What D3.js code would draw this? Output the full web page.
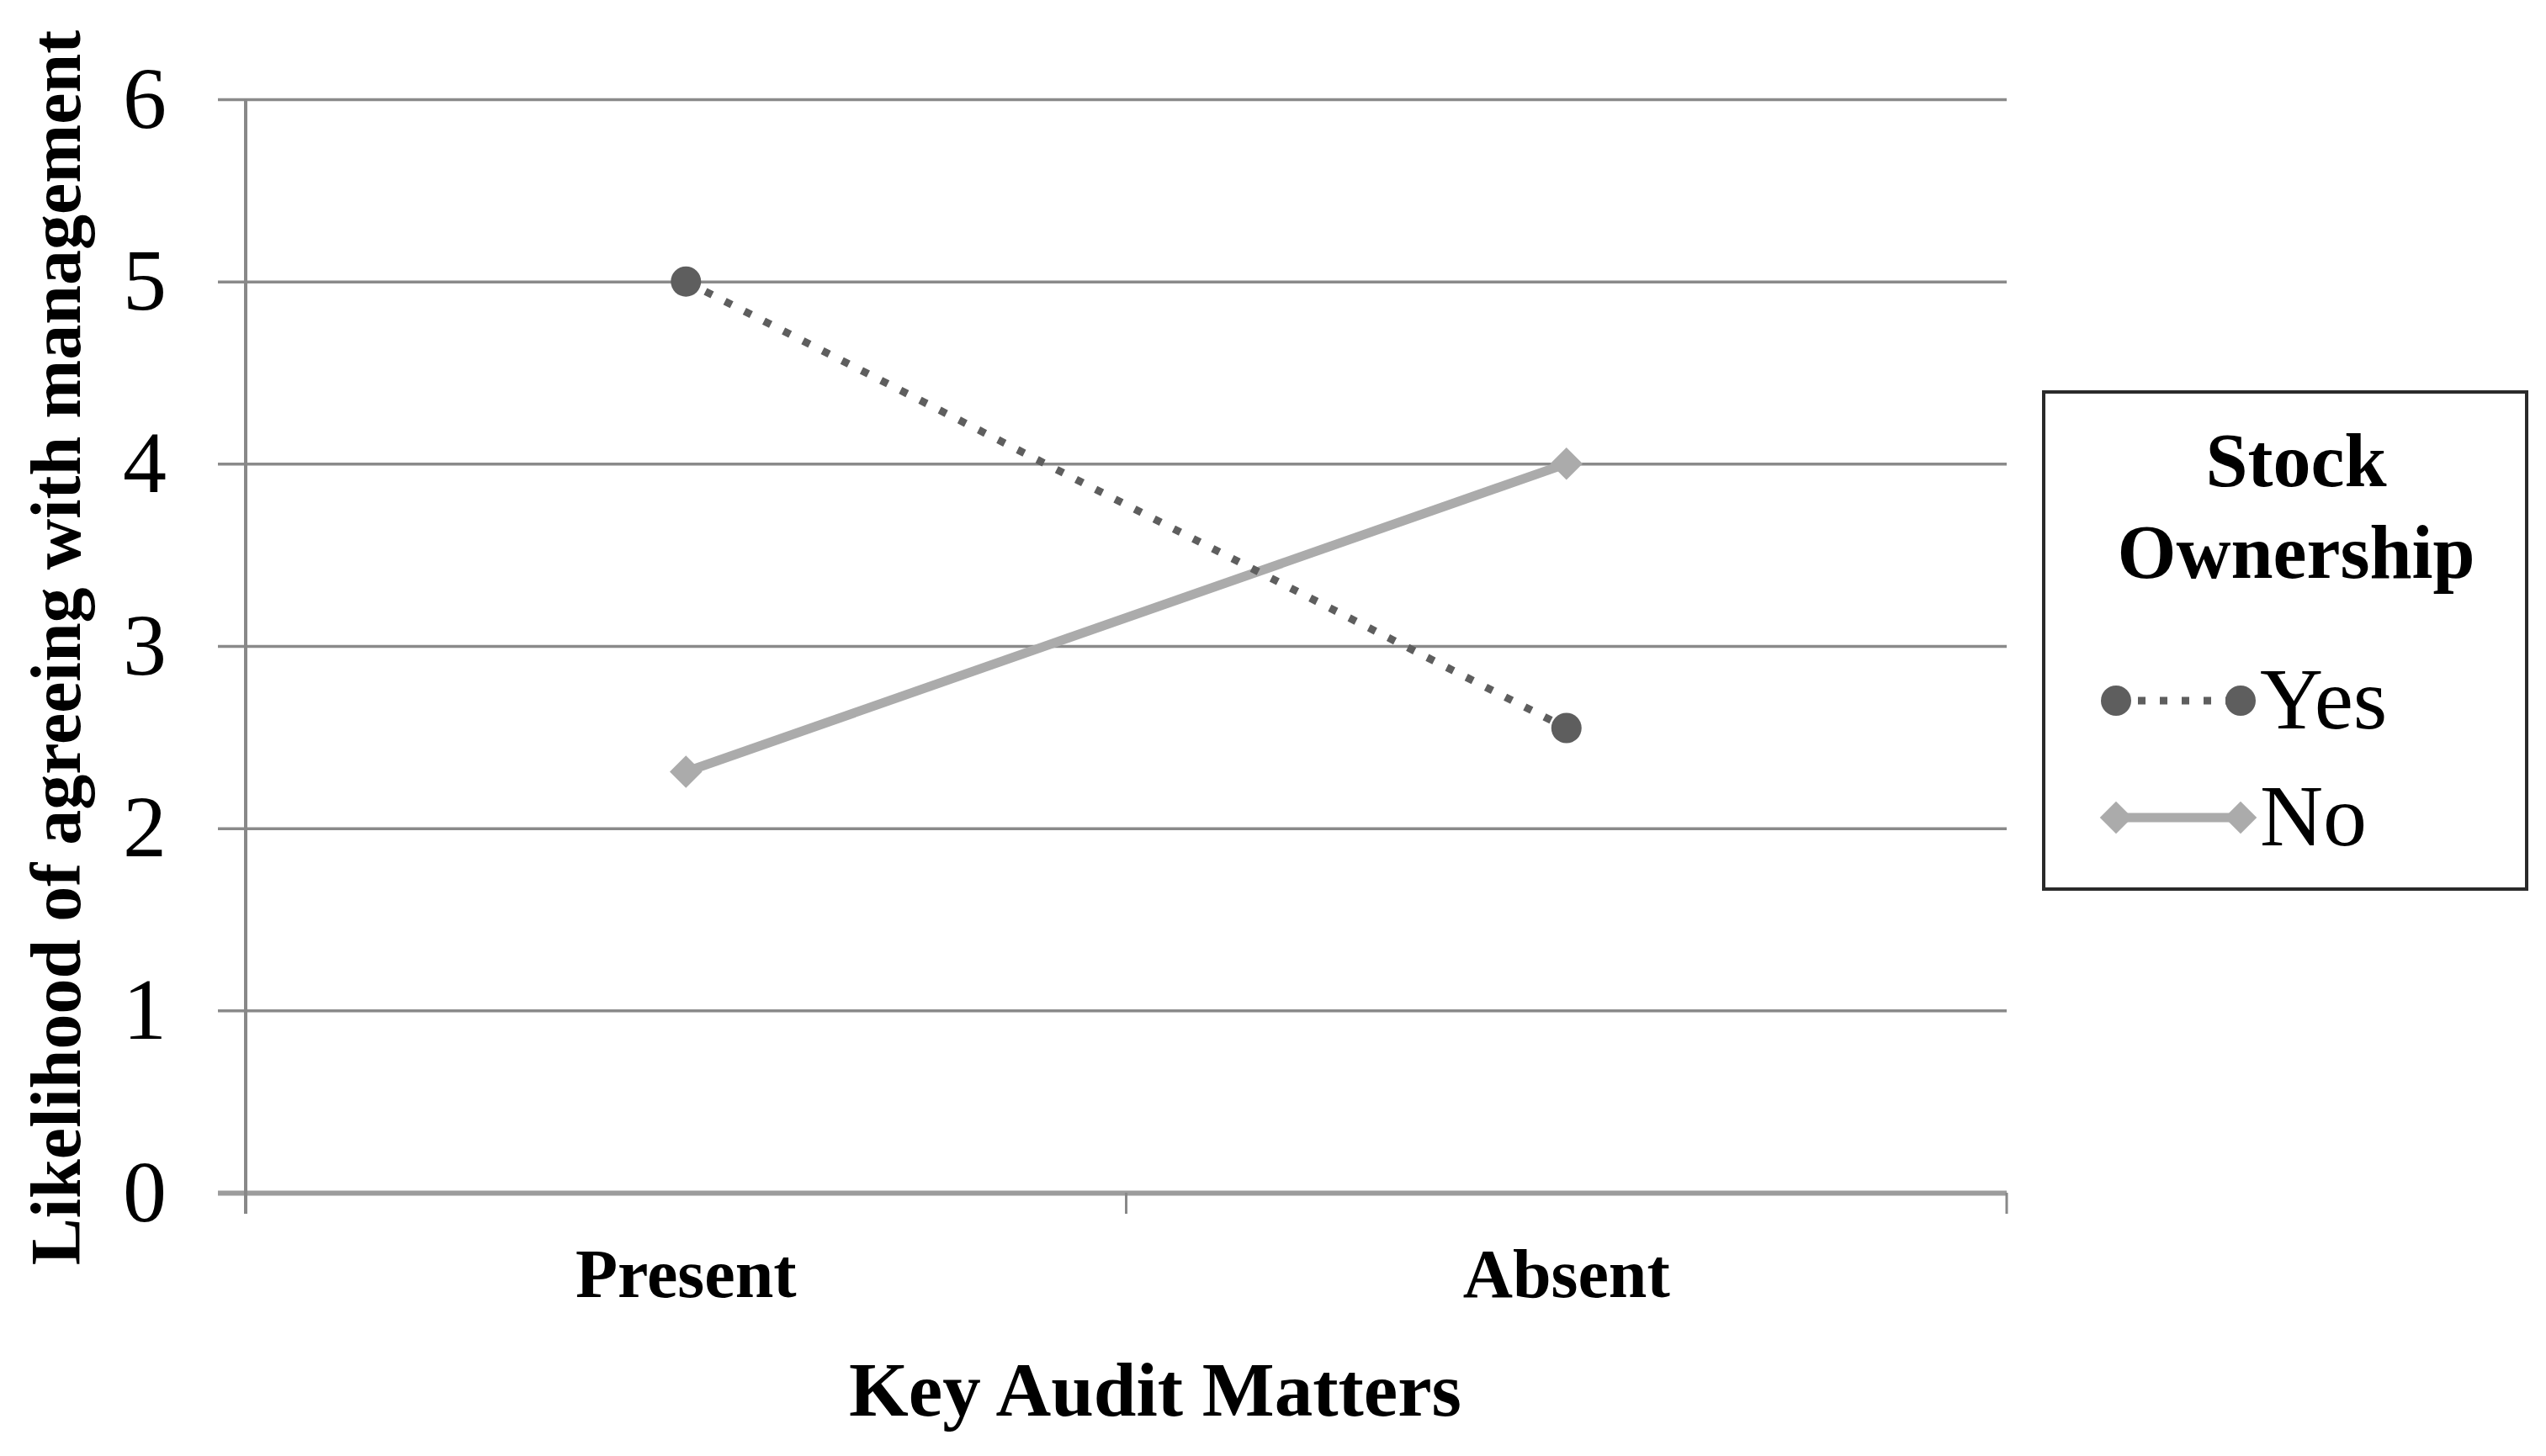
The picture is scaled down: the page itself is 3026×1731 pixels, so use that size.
<!DOCTYPE html>
<html>
<head>
<meta charset="utf-8">
<script src="https://cdn.jsdelivr.net/npm/d3@7"></script>
<style>
  body { margin: 0; background: #fff; }
  text { font-family: "Liberation Serif", "Times New Roman", serif; }
</style>
</head>
<body>
<svg id="chart"></svg>
<script>
// data
const categories = ["Present", "Absent"];
const yesValues = [5.0, 2.55];
const noValues = [2.31, 4.0];
const yTicks = [0, 1, 2, 3, 4, 5, 6];
const seriesNames = ["Yes", "No"];

const W = 3026, H = 1731;
const margin = { top: 118, right: 641, bottom: 313, left: 292 };

const svg = d3.select("#chart")
  .attr("width", W)
  .attr("height", H);

svg.append("rect").attr("width", W).attr("height", H).attr("fill", "#fff");

// scales
const x = d3.scaleBand().domain(categories).range([margin.left, W - margin.right]).padding(0);
const y = d3.scaleLinear().domain([0, 6]).range([H - margin.bottom, margin.top]);

const tickOut = 33;

// gridlines + y labels
const yAxis = svg.append("g")
  .attr("transform", `translate(${margin.left - tickOut},0)`)
  .call(d3.axisLeft(y).tickValues(yTicks).tickFormat(d3.format("d"))
    .tickSize(-(W - margin.right - margin.left + tickOut)).tickPadding(61));
yAxis.select(".domain").remove();
yAxis.selectAll(".tick line")
  .attr("stroke", d => d === 0 ? "#9c9c9c" : "#8a8a8a")
  .attr("stroke-width", d => d === 0 ? 6 : 3.5);
yAxis.selectAll(".tick text")
  .attr("fill", "#000")
  .style("font-size", "104px");

// vertical axis line
svg.append("line")
  .attr("x1", margin.left).attr("x2", margin.left)
  .attr("y1", margin.top).attr("y2", y(0) + 25)
  .attr("stroke", "#888").attr("stroke-width", 4);

// x ticks at band edges
const edges = categories.map(c => x(c) + x.bandwidth());
svg.selectAll(".xtick")
  .data(edges)
  .enter().append("line")
  .attr("class", "xtick")
  .attr("x1", d => d).attr("x2", d => d)
  .attr("y1", y(0)).attr("y2", y(0) + 25)
  .attr("stroke", "#888").attr("stroke-width", 3);

// category labels
const xAxis = svg.append("g")
  .attr("transform", `translate(0,${y(0)})`)
  .call(d3.axisBottom(x).tickSize(0).tickPadding(66));
xAxis.select(".domain").remove();
xAxis.selectAll(".tick text")
  .attr("fill", "#000")
  .style("font-size", "82px")
  .style("font-weight", "bold");

// axis titles
svg.append("text")
  .attr("x", 1373).attr("y", 1683)
  .attr("text-anchor", "middle")
  .style("font-size", "91px").style("font-weight", "bold")
  .text("Key Audit Matters");

svg.append("text")
  .attr("transform", `translate(95,770) rotate(-90)`)
  .attr("text-anchor", "middle")
  .style("font-size", "84px").style("font-weight", "bold")
  .text("Likelihood of agreeing with management");

// lines
const cx = c => x(c) + x.bandwidth() / 2;
const line = d3.line().x(d => cx(d.cat)).y(d => y(d.v));
const yesData = categories.map((c, i) => ({ cat: c, v: yesValues[i] }));
const noData = categories.map((c, i) => ({ cat: c, v: noValues[i] }));

const yesColor = "#5e5e5e", noColor = "#ababab";
const diamond = d3.symbol().type(d3.symbolSquare).size(740);

svg.append("path").datum(noData)
  .attr("d", line)
  .attr("fill", "none").attr("stroke", noColor).attr("stroke-width", 11);
svg.selectAll(".nopt").data(noData).enter().append("path")
  .attr("class", "nopt")
  .attr("d", diamond)
  .attr("transform", d => `translate(${cx(d.cat)},${y(d.v)}) rotate(45)`)
  .attr("fill", noColor);

svg.append("path").datum(yesData)
  .attr("d", line)
  .attr("fill", "none").attr("stroke", yesColor).attr("stroke-width", 9)
  .attr("stroke-dasharray", "9,17");
svg.selectAll(".yespt").data(yesData).enter().append("circle")
  .attr("class", "yespt")
  .attr("cx", d => cx(d.cat)).attr("cy", d => y(d.v)).attr("r", 18)
  .attr("fill", yesColor);

// legend
const lg = svg.append("g");
lg.append("rect")
  .attr("x", 2429).attr("y", 466).attr("width", 574).attr("height", 591)
  .attr("fill", "#fff").attr("stroke", "#2a2a2a").attr("stroke-width", 4);
lg.append("text").attr("x", 2729).attr("y", 578).attr("text-anchor", "middle")
  .style("font-size", "90px").style("font-weight", "bold").text("Stock");
lg.append("text").attr("x", 2729).attr("y", 687).attr("text-anchor", "middle")
  .style("font-size", "90px").style("font-weight", "bold").text("Ownership");

const rows = [833, 972];
const lx1 = 2515, lx2 = 2663;
seriesNames.forEach((name, i) => {
  const ly = rows[i];
  if (name === "Yes") {
    lg.append("line").attr("x1", lx1).attr("x2", lx2).attr("y1", ly).attr("y2", ly)
      .attr("stroke", yesColor).attr("stroke-width", 9).attr("stroke-dasharray", "9,17");
    [lx1, lx2].forEach(px => lg.append("circle").attr("cx", px).attr("cy", ly).attr("r", 18).attr("fill", yesColor));
  } else {
    lg.append("line").attr("x1", lx1).attr("x2", lx2).attr("y1", ly).attr("y2", ly)
      .attr("stroke", noColor).attr("stroke-width", 11);
    [lx1, lx2].forEach(px => lg.append("path").attr("d", diamond)
      .attr("transform", `translate(${px},${ly}) rotate(45)`).attr("fill", noColor));
  }
  lg.append("text").attr("x", 2686).attr("y", ly + 33)
    .style("font-size", "104px").text(name);
});
</script>
</body>
</html>
